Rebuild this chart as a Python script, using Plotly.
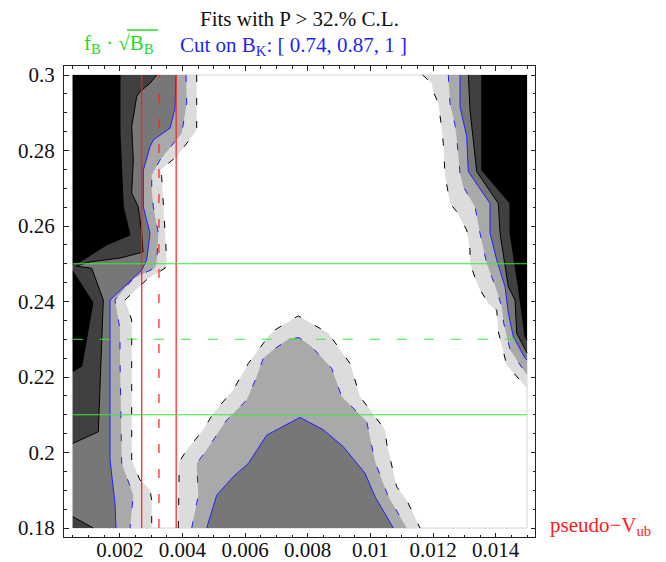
import plotly.graph_objects as go

# ---------------------------------------------------------------
# Range covered by the contour data
# ---------------------------------------------------------------
X_MIN, X_MAX = 0.0005, 0.015
Y_MIN, Y_MAX = 0.18, 0.30

# Contour levels, outermost (P > 32% C.L.) to innermost
LEVEL_FILLS = ["#dcdcdc", "#a9a9a9", "#777777", "#404040", "#000000"]
LEVEL_LINES = [("#000000", "7px,16px"), ("#1f1fff", "7px,16px"),
               ("#1f1fff", "solid"), ("#000000", "solid"), ("#000000", "solid")]

# --- left band (curves run from top edge to bottom / left edge) ---
left_lvl1_x = [0.004455, 0.004455, 0.003817, 0.003284, 0.003338, 0.003389, 0.003443, 0.003498, 0.003443,
               0.002901, 0.002166, 0.002380, 0.002380, 0.002380, 0.002645, 0.002965, 0.003019, 0.003019]
left_lvl1_y = [0.300, 0.2854, 0.2784, 0.2748, 0.2731, 0.2651, 0.2581, 0.2510, 0.2488,
               0.2461, 0.2404, 0.2351, 0.2325, 0.1980, 0.1927, 0.1901, 0.1874, 0.180]

left_lvl2_x = [0.004114, 0.004136, 0.003977, 0.003284, 0.003019, 0.003019, 0.003070, 0.003230, 0.003178,
               0.003124, 0.002431, 0.001847, 0.002007, 0.002007, 0.002061, 0.002431, 0.002326]
left_lvl2_y = [0.300, 0.2925, 0.2846, 0.2775, 0.2735, 0.2695, 0.2651, 0.2581, 0.2505,
               0.2489, 0.2461, 0.2404, 0.2325, 0.2245, 0.1971, 0.1887, 0.180]

left_lvl3_x = [0.003795, 0.003763, 0.003603, 0.003070, 0.002965, 0.002751, 0.002751, 0.002965, 0.002859,
               0.002700, 0.001688, 0.001688, 0.001847, 0.001879]
left_lvl3_y = [0.300, 0.2912, 0.2859, 0.2828, 0.2810, 0.2748, 0.2651, 0.2581, 0.2510,
               0.2483, 0.2404, 0.1980, 0.1865, 0.180]

left_lvl4_x = [0.003178, 0.002965, 0.002645, 0.002540, 0.002380, 0.002431, 0.002380, 0.002591, 0.002700,
               0.002741, 0.002007, 0.001049, 0.000602, 0.001103, 0.001474, 0.001368, 0.001314, 0.0005]
left_lvl4_y = [0.300, 0.2978, 0.2956, 0.2943, 0.2863, 0.2775, 0.2687, 0.2651, 0.2581,
               0.2531, 0.2515, 0.2505, 0.2494, 0.2488, 0.2404, 0.2139, 0.2055, 0.2024]

left_lvl5_x = [0.002007, 0.002007, 0.002112, 0.002326, 0.001582, 0.000730, 0.0005]
left_lvl5_y = [0.300, 0.2846, 0.2651, 0.2576, 0.2550, 0.2505, 0.2499]

left_lvl5b_x = [0.0005, 0.001145, 0.000784, 0.0005]
left_lvl5b_y = [0.2483, 0.2399, 0.2227, 0.2213]

corner_lvl4_x = [0.0005, 0.00115]
corner_lvl4_y = [0.1830, 0.180]

# --- right band (curves run from top edge to right edge) ---
right_lvl1_x = [0.011670, 0.011958, 0.012009, 0.012168, 0.012277, 0.012328, 0.012383, 0.012542, 0.012756,
                0.013075, 0.013180, 0.013180, 0.013445, 0.013765, 0.014033, 0.014084, 0.014352, 0.015]
right_lvl1_y = [0.300, 0.2978, 0.2956, 0.2925, 0.2859, 0.2819, 0.2735, 0.2660, 0.2638,
                0.2589, 0.2536, 0.2501, 0.2439, 0.2395, 0.2377, 0.2320, 0.2232, 0.2170]

right_lvl2_x = [0.012488, 0.012542, 0.012702, 0.012756, 0.012861, 0.012967, 0.013340, 0.013499, 0.013713,
                0.014033, 0.014193, 0.014250, 0.014458, 0.015]
right_lvl2_y = [0.300, 0.2925, 0.2868, 0.2832, 0.2740, 0.2704, 0.2651, 0.2581, 0.2501,
                0.2430, 0.2386, 0.2345, 0.2272, 0.2205]

right_lvl3_x = [0.012861, 0.012861, 0.013075, 0.013127, 0.013819, 0.013819, 0.014033, 0.014298, 0.014404,
                0.014563, 0.014937, 0.015]
right_lvl3_y = [0.300, 0.2916, 0.2837, 0.2744, 0.2660, 0.2581, 0.2510, 0.2439, 0.2369,
                0.2307, 0.2250, 0.2245]

right_lvl4_x = [0.013127, 0.013180, 0.013394, 0.014084, 0.014138, 0.014404, 0.014617, 0.014672, 0.015]
right_lvl4_y = [0.300, 0.2907, 0.2744, 0.2660, 0.2581, 0.2439, 0.2404, 0.2316, 0.2264]

right_lvl5_x = [0.013554, 0.013554, 0.014458, 0.014458, 0.014723, 0.014777, 0.014937, 0.015]
right_lvl5_y = [0.300, 0.2748, 0.2660, 0.2581, 0.2439, 0.2404, 0.2307, 0.2298]

# --- central hill (curves run along the bottom edge, left to right) ---
hill_lvl1_x = [0.003868, 0.003900, 0.004136, 0.004666, 0.004985, 0.005624, 0.006103, 0.006741, 0.006955,
               0.007699, 0.008657, 0.009350, 0.009669, 0.010467, 0.010521, 0.010840, 0.011160, 0.011584]
hill_lvl1_y = [0.180, 0.1975, 0.2007, 0.2060, 0.2104, 0.2166, 0.2236, 0.2307, 0.2325,
               0.2362, 0.2316, 0.2236, 0.2148, 0.2060, 0.2024, 0.1909, 0.1874, 0.180]

hill_lvl2_x = [0.004296, 0.004507, 0.004455, 0.004775, 0.005413, 0.006052, 0.006371, 0.006582, 0.006901,
               0.007434, 0.007731, 0.008127, 0.008765, 0.009085, 0.009883, 0.010148, 0.010572, 0.011160]
hill_lvl2_y = [0.180, 0.1887, 0.1971, 0.2007, 0.2086, 0.2139, 0.2201, 0.2250, 0.2272,
               0.2303, 0.2304, 0.2280, 0.2223, 0.2148, 0.2082, 0.1976, 0.1883, 0.180]

hill_lvl3_x = [0.004775, 0.005094, 0.005624, 0.006103, 0.006690, 0.007009, 0.007753, 0.008497, 0.009138,
               0.009829, 0.010148, 0.010732]
hill_lvl3_y = [0.180, 0.1887, 0.1936, 0.1971, 0.2046, 0.2060, 0.2093, 0.2060, 0.2015,
               0.1945, 0.1883, 0.180]

# Reference values: pseudo-V_ub (lower, central, upper) and f_B sqrt(B_B)
pseudo_vub = [0.0027, 0.00325, 0.0038]
fb_sqrt_bb = [0.21, 0.23, 0.25]

# Tick marks
x_ticks = [0.002, 0.004, 0.006, 0.008, 0.010, 0.012, 0.014]
x_tick_text = ["0.002", "0.004", "0.006", "0.008", "0.01", "0.012", "0.014"]
y_ticks = [0.18, 0.20, 0.22, 0.24, 0.26, 0.28, 0.30]
y_tick_text = ["0.18", "0.2", "0.22", "0.24", "0.26", "0.28", "0.3"]

# (curve x, curve y, closing corners x, closing corners y, level index)
left_corners = ([X_MIN, X_MIN], [Y_MIN, Y_MAX])
right_corner = ([X_MAX], [Y_MAX])
regions = [
    (left_lvl1_x, left_lvl1_y) + left_corners + (0,),
    (right_lvl1_x, right_lvl1_y) + right_corner + (0,),
    (hill_lvl1_x, hill_lvl1_y, [], [], 0),
    (left_lvl2_x, left_lvl2_y) + left_corners + (1,),
    (right_lvl2_x, right_lvl2_y) + right_corner + (1,),
    (hill_lvl2_x, hill_lvl2_y, [], [], 1),
    (left_lvl3_x, left_lvl3_y) + left_corners + (2,),
    (right_lvl3_x, right_lvl3_y) + right_corner + (2,),
    (hill_lvl3_x, hill_lvl3_y, [], [], 2),
    (left_lvl4_x, left_lvl4_y, [X_MIN], [Y_MAX], 3),
    (corner_lvl4_x, corner_lvl4_y, [X_MIN], [Y_MIN], 3),
    (right_lvl4_x, right_lvl4_y) + right_corner + (3,),
    (left_lvl5_x, left_lvl5_y, [X_MIN], [Y_MAX], 4),
    (left_lvl5b_x, left_lvl5b_y, [], [], 4),
    (right_lvl5_x, right_lvl5_y) + right_corner + (4,),
]

fig = go.Figure()

# filled bands
for cx, cy, kx, ky, lvl in regions:
    fig.add_trace(go.Scatter(
        x=list(cx) + list(kx), y=list(cy) + list(ky),
        mode="lines", fill="toself", fillcolor=LEVEL_FILLS[lvl],
        line=dict(width=0), hoverinfo="skip", showlegend=False))

# contour lines
for cx, cy, kx, ky, lvl in regions:
    xs, ys = list(cx), list(cy)
    if cx is left_lvl5b_x:
        xs, ys = xs[1:-1], ys[1:-1]
    colour, dash = LEVEL_LINES[lvl]
    fig.add_trace(go.Scatter(
        x=xs, y=ys, mode="lines",
        line=dict(color=colour, width=1, dash=dash),
        hoverinfo="skip", showlegend=False))

# pseudo-V_ub band (vertical red lines)
for i, xv in enumerate(pseudo_vub):
    fig.add_trace(go.Scatter(
        x=[xv, xv], y=[Y_MIN, Y_MAX], mode="lines",
        line=dict(color="#ff1a1a", width=1.2, dash="9px,16px" if i == 1 else "solid"),
        hoverinfo="skip", showlegend=False))

# f_B sqrt(B_B) band (horizontal green lines)
for i, yv in enumerate(fb_sqrt_bb):
    fig.add_trace(go.Scatter(
        x=[X_MIN, X_MAX], y=[yv, yv], mode="lines",
        line=dict(color="#33ee33", width=1.2, dash="10px,17px" if i == 1 else "solid"),
        hoverinfo="skip", showlegend=False))

# outline of the plotted region
fig.add_shape(type="rect", x0=X_MIN, x1=X_MAX, y0=Y_MIN, y1=Y_MAX,
              line=dict(color="#d4d4d4", width=1), layer="below")

FONT = "Times New Roman, Liberation Serif, serif"
tick_font = dict(family=FONT, size=21, color="#111111")
axis_common = dict(
    showgrid=False, zeroline=False, showline=True, linecolor="#222222", linewidth=1,
    mirror="ticks", ticks="inside", ticklen=4.5, tickwidth=1, tickcolor="#222222",
    automargin=False,
)

fig.update_layout(
    width=666, height=562,
    margin=dict(l=64, r=131, t=66, b=25),
    paper_bgcolor="white", plot_bgcolor="white",
    font=dict(family=FONT, size=21, color="#111111"),
    xaxis=dict(range=[0.000219, 0.015255], tickmode="array", tickvals=x_ticks, ticktext=x_tick_text,
               tickfont=tick_font, ticklabelstandoff=-6,
               minor=dict(dtick=0.0005, tick0=0, ticks="inside", ticklen=2.5, tickcolor="#222222"),
               **axis_common),
    yaxis=dict(range=[0.177616, 0.302384], tickmode="array", tickvals=y_ticks, ticktext=y_tick_text,
               tickfont=tick_font, ticklabelstandoff=4,
               minor=dict(dtick=0.005, tick0=0, ticks="inside", ticklen=2.5, tickcolor="#222222"),
               **axis_common),
    annotations=[
        dict(text="Fits with P &gt; 32.% C.L.", xref="paper", yref="paper", x=0.501, y=1.0998,
             xanchor="center", yanchor="middle", showarrow=False,
             font=dict(family=FONT, size=21, color="#111111")),
        dict(text="Cut on B<sub>K</sub>: [ 0.74, 0.87, 1 ]", xref="paper", yref="paper",
             x=0.487, y=1.0425, xanchor="center", yanchor="middle", showarrow=False,
             font=dict(family=FONT, size=21, color="#1f1fff")),
        dict(text="f<sub>B</sub> · √B<sub>B</sub>", xref="paper", yref="paper",
             x=0.117, y=1.047, xanchor="center", yanchor="middle", showarrow=False,
             font=dict(family=FONT, size=21, color="#22dd22")),
        dict(text="pseudo−V<sub>ub</sub>", xref="paper", yref="paper",
             x=1.140, y=0.0234, xanchor="center", yanchor="middle", showarrow=False,
             font=dict(family=FONT, size=21, color="#ff1a1a")),
    ],
)

# bar of the square root sign over B_B
fig.add_shape(type="line", xref="paper", yref="paper", x0=0.1338, x1=0.1996, y0=1.0764, y1=1.0764,
              line=dict(color="#22dd22", width=1.5))

fig.write_html("out.html")
